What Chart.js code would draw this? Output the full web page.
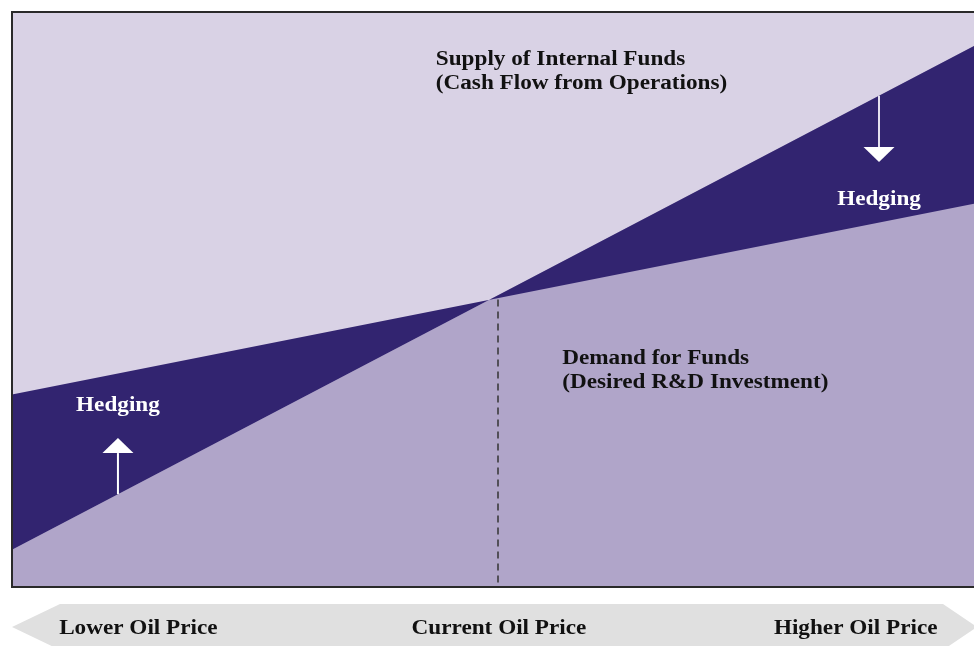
<!DOCTYPE html>
<html>
<head>
<meta charset="utf-8">
<script src="https://cdn.jsdelivr.net/npm/chart.js@4/dist/chart.umd.min.js"></script>
<style>
  html, body { margin: 0; padding: 0; background: #ffffff; overflow: hidden; }
  #wrap { width: 990px; height: 646px; }
</style>
</head>
<body>
<div id="wrap"><canvas id="c" width="990" height="646"></canvas></div>
<script>
// ---- data (conceptual chart: oil price vs. funds) ----
const priceLevels   = [0, 100];          // relative oil price (x)
const supplyValues  = [6.5, 95];         // supply of internal funds (cash flow)
const demandValues  = [33.5, 67];        // demand for funds (desired R&D)
const currentPrice  = 50;                // current oil price
const currentLevels = [50, 0];           // dashed marker from crossing down to axis
const priceLabels   = ['Lower Oil Price', 'Current Oil Price', 'Higher Oil Price'];
const priceLabelAt  = [13.0, 50.1, 86.8];
const hedgeArrowX   = [10.9, 89.2];      // x of hedging arrows
const hedgeArrowTip = [25.9, 73.9];      // y where each arrow head points
const supplyText    = ['Supply of Internal Funds', '(Cash Flow from Operations)'];
const demandText    = ['Demand for Funds', '(Desired R&D Investment)'];
const hedgeText     = 'Hedging';

const COL_LIGHT = '#d9d2e5';
const COL_DARK  = '#322470';
const COL_MED   = '#b0a5c9';
const COL_BAND  = '#e0e0e0';
const FONT = 'bold 20px "Liberation Serif", "DejaVu Serif", serif';
const STRETCH = 1.16;

function lineAt(vals, x) {
  return vals[0] + (vals[1] - vals[0]) * (x - priceLevels[0]) / (priceLevels[1] - priceLevels[0]);
}

function wideText(ctx, t, px, py, align) {
  const w = ctx.measureText(t).width * STRETCH;
  const left = align === 'center' ? px - w / 2 : px;
  ctx.save();
  ctx.translate(left, py);
  ctx.scale(STRETCH, 1);
  ctx.textAlign = 'left';
  ctx.fillText(t, 0, 0);
  ctx.restore();
}

const decorPlugin = {
  id: 'decor',
  beforeDraw(chart) {
    const { ctx, chartArea: a } = chart;
    ctx.save();
    ctx.fillStyle = COL_LIGHT;
    ctx.fillRect(a.left, a.top, a.right - a.left, a.bottom - a.top);
    // price direction band
    const top = a.bottom + 17, bot = a.bottom + 63, mid = (top + bot) / 2;
    ctx.fillStyle = COL_BAND;
    ctx.beginPath();
    ctx.moveTo(a.left, mid);
    ctx.lineTo(a.left + 48, top);
    ctx.lineTo(a.left + 931, top);
    ctx.lineTo(a.left + 965, mid);
    ctx.lineTo(a.left + 931, bot);
    ctx.lineTo(a.left + 48, bot);
    ctx.closePath();
    ctx.fill();
    ctx.restore();
  },
  afterDraw(chart) {
    const { ctx, chartArea: a, scales: { x, y } } = chart;
    ctx.save();
    // frame
    ctx.strokeStyle = '#2a2a2a';
    ctx.lineWidth = 2;
    ctx.beginPath();
    ctx.moveTo(a.right + 10, a.top);
    ctx.lineTo(a.left, a.top);
    ctx.lineTo(a.left, a.bottom);
    ctx.lineTo(a.right + 10, a.bottom);
    ctx.stroke();

    // hedging arrows
    hedgeArrowX.forEach((hx, i) => {
      const px = x.getPixelForValue(hx);
      const yStart = y.getPixelForValue(lineAt(supplyValues, hx));
      const yTip = y.getPixelForValue(hedgeArrowTip[i]);
      const dir = yTip < yStart ? -1 : 1;
      const headLen = 15, headHalf = 15.5;
      const yBase = yTip - dir * headLen;
      ctx.strokeStyle = i === 0 ? '#ffffff' : '#e4e0ee';
      ctx.lineWidth = 2;
      ctx.beginPath();
      ctx.moveTo(px, yStart);
      ctx.lineTo(px, yBase);
      ctx.stroke();
      ctx.fillStyle = '#ffffff';
      ctx.beginPath();
      ctx.moveTo(px, yTip);
      ctx.lineTo(px - headHalf, yBase);
      ctx.lineTo(px + headHalf, yBase);
      ctx.closePath();
      ctx.fill();
    });

    ctx.font = FONT;
    ctx.textBaseline = 'middle';
    // Hedging labels
    ctx.fillStyle = '#ffffff';
    wideText(ctx, hedgeText, x.getPixelForValue(10.9), y.getPixelForValue(31.8) + 2, 'center');
    wideText(ctx, hedgeText, x.getPixelForValue(89.2), y.getPixelForValue(67.7) + 2, 'center');
    // Curve labels
    ctx.fillStyle = '#111111';
    wideText(ctx, supplyText[0], x.getPixelForValue(43.6), y.getPixelForValue(92.0) + 2, 'left');
    wideText(ctx, supplyText[1], x.getPixelForValue(43.6), y.getPixelForValue(87.8) + 2, 'left');
    wideText(ctx, demandText[0], x.getPixelForValue(56.6), y.getPixelForValue(40.0) + 2, 'left');
    wideText(ctx, demandText[1], x.getPixelForValue(56.6), y.getPixelForValue(35.8) + 2, 'left');
    // price labels
    priceLabels.forEach((t, i) => {
      wideText(ctx, t, x.getPixelForValue(priceLabelAt[i]), a.bottom + 42, 'center');
    });
    ctx.restore();
  }
};

new Chart(document.getElementById('c'), {
  type: 'line',
  data: {
    datasets: [
      {
        label: 'Current Oil Price',
        data: currentLevels.map(v => ({ x: currentPrice, y: v })),
        borderColor: '#333333',
        borderWidth: 1.5,
        borderDash: [7, 5],
        pointRadius: 0,
        fill: false,
        order: 0
      },
      {
        label: 'Demand for Funds',
        data: priceLevels.map((p, i) => ({ x: p, y: demandValues[i] })),
        borderWidth: 0,
        borderColor: 'rgba(0,0,0,0)',
        pointRadius: 0,
        tension: 0,
        fill: { target: 2, above: COL_DARK, below: COL_DARK },
        order: 1
      },
      {
        label: 'Supply of Internal Funds',
        data: priceLevels.map((p, i) => ({ x: p, y: supplyValues[i] })),
        borderWidth: 0,
        borderColor: 'rgba(0,0,0,0)',
        pointRadius: 0,
        tension: 0,
        fill: { target: 'origin', above: COL_MED, below: COL_MED },
        order: 2
      }
    ]
  },
  options: {
    responsive: false,
    animation: false,
    devicePixelRatio: 1,
    layout: { padding: { left: 12, top: 12, right: 6, bottom: 59 } },
    plugins: {
      legend: { display: false },
      tooltip: { enabled: false },
      title: { display: false },
      filler: { propagate: false }
    },
    scales: {
      x: { type: 'linear', min: 0, max: 100, display: false },
      y: { type: 'linear', min: 0, max: 100, display: false }
    }
  },
  plugins: [decorPlugin]
});
</script>
</body>
</html>
